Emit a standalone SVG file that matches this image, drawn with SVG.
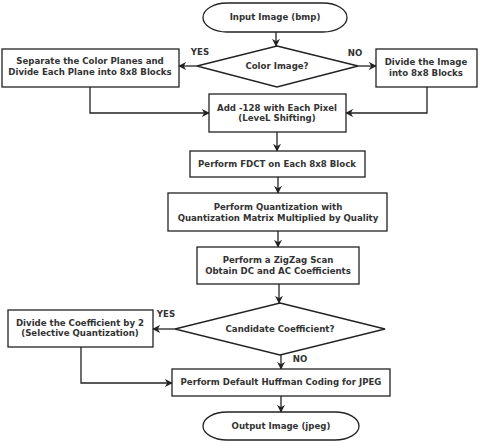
<svg xmlns="http://www.w3.org/2000/svg" width="487" height="443" viewBox="0 0 487 443">
<defs>
<style>
.n{fill:#fff;stroke:#222;stroke-width:1.3}
.t{font-family:"DejaVu Sans",sans-serif;font-weight:bold;font-size:8.6px;fill:#333;text-anchor:middle}
.c{fill:none;stroke:#222;stroke-width:1.3}
</style>
<marker id="a" viewBox="0 0 10 10" refX="9" refY="5" markerWidth="8" markerHeight="8" markerUnits="userSpaceOnUse" orient="auto">
<path d="M0,0 L10,5 L0,10 L3,5 Z" fill="#222"/>
</marker>
</defs>
<rect width="487" height="443" fill="#fff"/>
<g id="connectors">
<path class="c" d="M276,32 V46" marker-end="url(#a)"/>
<path class="c" d="M197,66 H179" marker-end="url(#a)"/>
<path class="c" d="M358,66 H376" marker-end="url(#a)"/>
<path class="c" d="M90,87 V113 H209" marker-end="url(#a)"/>
<path class="c" d="M427,87 V113 H346" marker-end="url(#a)"/>
<path class="c" d="M277,132 V151" marker-end="url(#a)"/>
<path class="c" d="M278,177 V193" marker-end="url(#a)"/>
<path class="c" d="M278,231 V247" marker-end="url(#a)"/>
<path class="c" d="M279,284 V303" marker-end="url(#a)"/>
<path class="c" d="M175,329 H153" marker-end="url(#a)"/>
<path class="c" d="M281,355 V369" marker-end="url(#a)"/>
<path class="c" d="M81,347 V383 H172" marker-end="url(#a)"/>
<path class="c" d="M281,396 V412" marker-end="url(#a)"/>
<text class="t" x="200" y="55">YES</text>
<text class="t" x="355" y="56">NO</text>
<text class="t" x="166" y="317">YES</text>
<text class="t" x="300" y="362">NO</text>
</g>
<g id="input">
<rect class="n" x="203" y="3" width="144" height="29" rx="24" ry="14.5"/>
<text class="t" x="275" y="20">Input Image (bmp)</text>
</g>
<g id="color">
<polygon class="n" points="277,46 358,66 277,87 197,66"/>
<text class="t" x="277" y="69">Color Image?</text>
</g>
<g id="separate">
<rect class="n" x="2" y="49" width="177" height="38"/>
<text class="t" x="90" y="64">Separate the Color Planes and</text>
<text class="t" x="90" y="75">Divide Each Plane into 8x8 Blocks</text>
</g>
<g id="divide">
<rect class="n" x="376" y="49" width="101" height="38"/>
<text class="t" x="426" y="65">Divide the Image</text>
<text class="t" x="426" y="76">into 8x8 Blocks</text>
</g>
<g id="add">
<rect class="n" x="209" y="94" width="137" height="38"/>
<text class="t" x="277" y="111">Add -128 with Each Pixel</text>
<text class="t" x="277" y="121">(LeveL Shifting)</text>
</g>
<g id="fdct">
<rect class="n" x="190" y="151" width="175" height="26"/>
<text class="t" x="277" y="167">Perform FDCT on Each 8x8 Block</text>
</g>
<g id="quant">
<rect class="n" x="168" y="193" width="219" height="38"/>
<text class="t" x="278" y="210">Perform Quantization with</text>
<text class="t" x="278" y="221">Quantization Matrix Multiplied by Quality</text>
</g>
<g id="zigzag">
<rect class="n" x="197" y="247" width="162" height="37"/>
<text class="t" x="278" y="263">Perform a ZigZag Scan</text>
<text class="t" x="278" y="274">Obtain DC and AC Coefficients</text>
</g>
<g id="candidate">
<polygon class="n" points="280,303 385,329 280,355 175,329"/>
<text class="t" x="280" y="332">Candidate Coefficient?</text>
</g>
<g id="divcoef">
<rect class="n" x="8" y="310" width="145" height="37"/>
<text class="t" x="80" y="326">Divide the Coefficient by 2</text>
<text class="t" x="80" y="336">(Selective Quantization)</text>
</g>
<g id="huffman">
<rect class="n" x="172" y="369" width="218" height="27"/>
<text class="t" x="281" y="385">Perform Default Huffman Coding for JPEG</text>
</g>
<g id="output">
<rect class="n" x="203" y="412" width="156" height="28" rx="24" ry="14"/>
<text class="t" x="281" y="429">Output Image (jpeg)</text>
</g>
</svg>
